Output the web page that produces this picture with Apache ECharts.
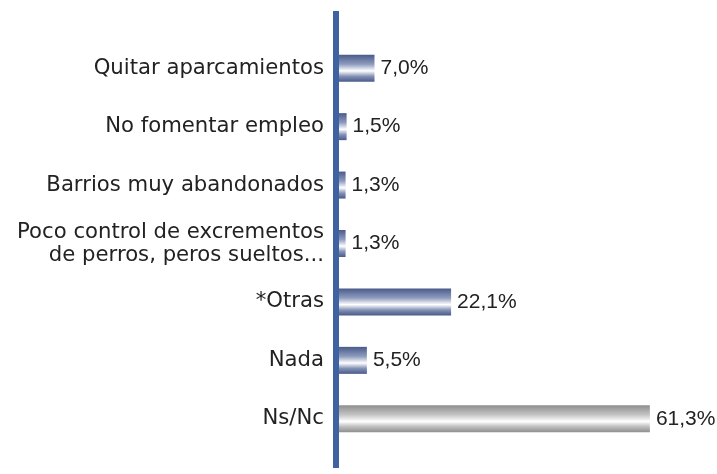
<!DOCTYPE html>
<html><head><meta charset="utf-8">
<script src="https://cdn.jsdelivr.net/npm/echarts@6/dist/echarts.min.js"></script>
<style>html,body{margin:0;padding:0;background:#fff}#c{width:717px;height:474px}</style>
</head><body><div id="c"></div>
<script>
const categories = ["Quitar aparcamientos","No fomentar empleo","Barrios muy abandonados","Poco control de excrementos\nde perros, peros sueltos...","*Otras","Nada","Ns/Nc"];
const values = [7.0, 1.5, 1.3, 1.3, 22.1, 5.5, 61.3];
const valueLabels = ["7,0%","1,5%","1,3%","1,3%","22,1%","5,5%","61,3%"];

function grad(edge, mid){
  return new echarts.graphic.LinearGradient(0,0,0,1,[
    {offset:0,color:edge},{offset:0.35,color:mid.a},{offset:0.6,color:'#ffffff'},{offset:0.8,color:mid.b},{offset:1,color:edge}
  ]);
}
const blue = grad('#4a5a8a',{a:'#8d9bbd',b:'#8391b5'});
const gray = grad('#8e8e8e',{a:'#c4c4c4',b:'#bcbcbc'});

const chart = echarts.init(document.getElementById('c'));
chart.setOption({
  animation:false,
  textStyle:{fontFamily:'Liberation Sans'},
  grid:[
    {left:339,right:23,top:39,bottom:26},
    {left:336,width:10,top:11,bottom:6}
  ],
  xAxis:[
    {type:'value',gridIndex:0,min:0,max:70,show:false},
    {type:'value',gridIndex:1,min:0,max:1,show:false}
  ],
  yAxis:[
    {type:'category',gridIndex:0,inverse:true,data:categories,
     axisLine:{show:false},axisTick:{show:false},
     axisLabel:{margin:15,fontSize:21.2,fontFamily:'DejaVu Sans',color:'#222',lineHeight:23,align:'right'}},
    {type:'value',gridIndex:1,min:0,max:1,
     axisLine:{show:true,lineStyle:{color:'#3f62a0',width:6,cap:'butt'}},
     axisTick:{show:false},axisLabel:{show:false},splitLine:{show:false}}
  ],
  series:[{
    type:'bar',xAxisIndex:0,yAxisIndex:0,barWidth:27,
    data:values.map((v,i)=>({value:v,itemStyle:{color:i===6?gray:blue}})),
    label:{show:true,position:'right',distance:6,fontSize:21,color:'#222',
      fontFamily:'Liberation Sans',
      formatter:p=>valueLabels[p.dataIndex]}
  }]
});
</script></body></html>
